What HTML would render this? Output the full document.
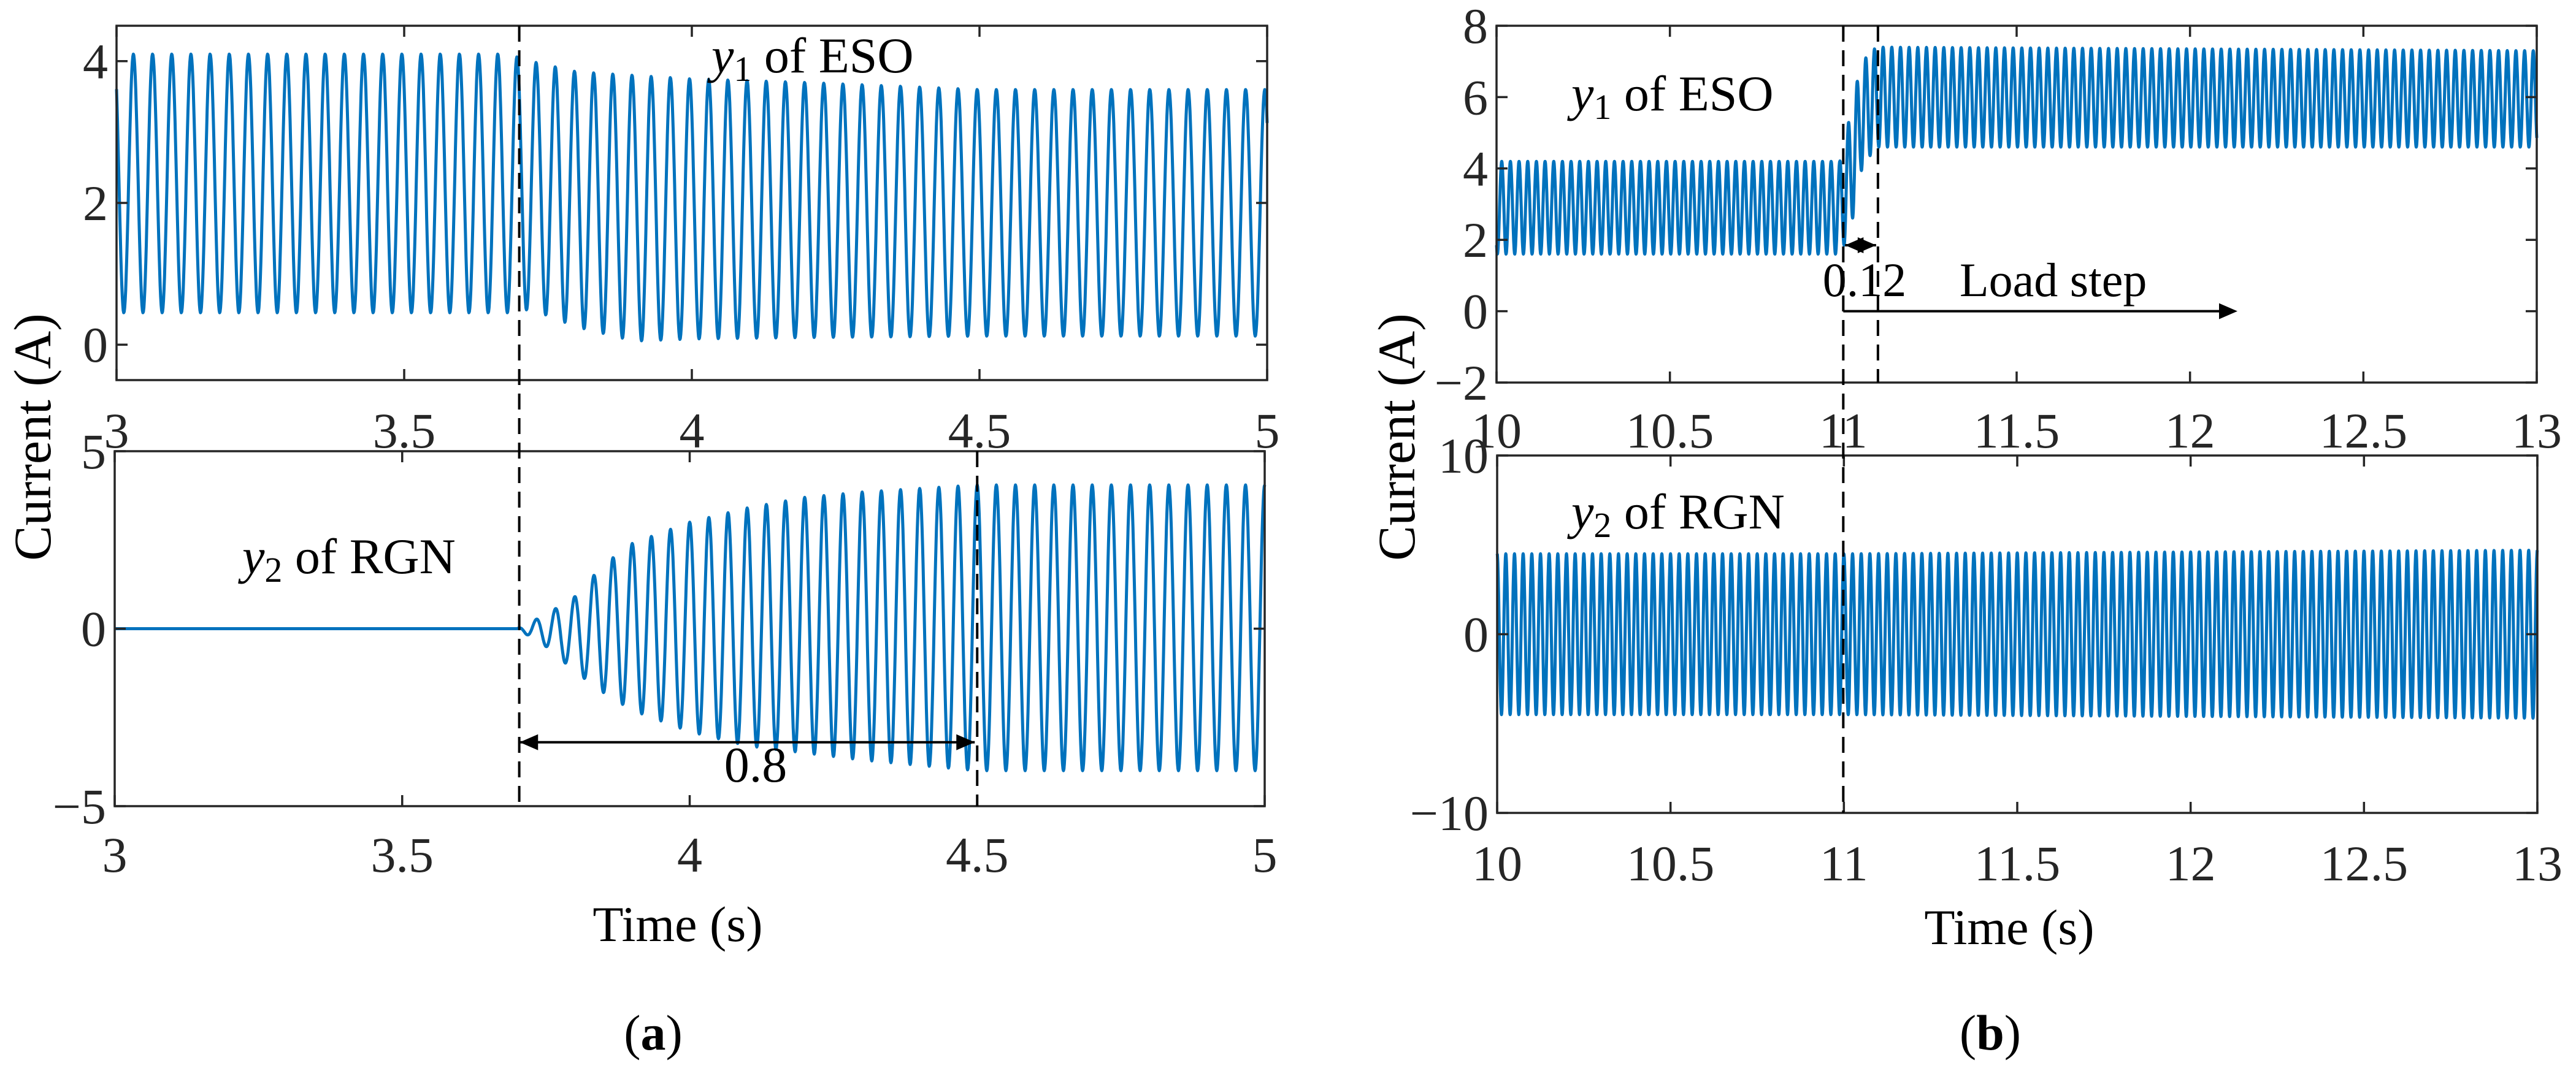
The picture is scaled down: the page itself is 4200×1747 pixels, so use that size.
<!DOCTYPE html>
<html><head><meta charset="utf-8"><style>
html,body{margin:0;padding:0;background:#fff;}
svg{display:block;font-family:"Liberation Serif",serif;}
text{font-family:"Liberation Serif",serif;}
</style></head><body>
<svg id="fig" width="4200" height="1747" viewBox="0 0 4200 1747" xmlns="http://www.w3.org/2000/svg"></svg>
<script>
// ---- data (envelopes) ----
const a1Times=[3,3.68,3.72,3.8,3.9,4.0,4.2,4.5,5];
const a1Max=[4.1,4.1,4.0,3.85,3.8,3.75,3.7,3.6,3.6];
const a1Min=[0.45,0.45,0.5,0.25,0.05,0.08,0.1,0.12,0.12];
const a2Times=[3,3.7,3.75,3.8,3.85,3.9,4.0,4.1,4.2,4.3,4.5,5];
const a2Max=[0,0,0.4,0.9,1.8,2.4,3.0,3.4,3.7,3.85,4.05,4.05];
const a2Min=[0,0,-0.5,-1.2,-1.8,-2.3,-2.9,-3.3,-3.5,-3.7,-4.0,-4.0];
const b1Times=[10,10.99,11.02,11.05,11.08,11.1,13];
const b1Max=[4.2,4.2,5.5,6.9,7.3,7.4,7.3];
const b1Min=[1.6,1.6,2.2,3.9,4.4,4.6,4.6];
const b2Times=[10,11,13];
const b2Max=[4.5,4.5,4.7];
const b2Min=[-4.5,-4.5,-4.7];
const freqA=30, freqB=40;
const xTicksA=[3,3.5,4,4.5,5], xTickLabelsA=["3","3.5","4","4.5","5"];
const xTicksB=[10,10.5,11,11.5,12,12.5,13], xTickLabelsB=["10","10.5","11","11.5","12","12.5","13"];
const yTicksA1=[0,2,4], yTicksA2=[-5,0,5], yTicksB1=[-2,0,2,4,6,8], yTicksB2=[-10,0,10];

const NS="http://www.w3.org/2000/svg";
const FONT='"Liberation Serif", serif';
const svg=document.getElementById('fig');
function mk(tag,attrs,parent){const e=document.createElementNS(NS,tag);for(const k in attrs)e.setAttribute(k,attrs[k]);if(tag==='text')e.setAttribute('font-family',FONT);(parent||svg).appendChild(e);return e;}
function interp(ts,vs,t){if(t<=ts[0])return vs[0];for(let i=1;i<ts.length;i++){if(t<=ts[i]){const f=(t-ts[i-1])/(ts[i]-ts[i-1]);return vs[i-1]+f*(vs[i]-vs[i-1]);}}return vs[vs.length-1];}
function makeAxis(x0,x1,y0,y1,xmin,xmax,ymin,ymax){return {x:v=>x0+(v-xmin)/(xmax-xmin)*(x1-x0),y:v=>y1-(v-ymin)/(ymax-ymin)*(y1-y0),x0,x1,y0,y1};}

const TXT='#262626';
function drawBox(ax,xt,xl,yt,name,labY){
  const g=mk('g',{});
  
  
  const r=mk('rect',{x:ax.x0,y:ax.y0,width:ax.x1-ax.x0,height:ax.y1-ax.y0,fill:'none',stroke:TXT,'stroke-width':3.5},g);
  
  xt.forEach((v,i)=>{const X=ax.x(v);
    mk('line',{x1:X,x2:X,y1:ax.y1,y2:ax.y1-18,stroke:TXT,'stroke-width':3.5},g);
    mk('line',{x1:X,x2:X,y1:ax.y0,y2:ax.y0+18,stroke:TXT,'stroke-width':3.5},g);
    const t=mk('text',{x:X,y:labY,'font-size':82,'text-anchor':'middle',fill:TXT},g);
    t.textContent=xl[i];});
  yt.forEach(v=>{const Y=ax.y(v);
    mk('line',{x1:ax.x0,x2:ax.x0+18,y1:Y,y2:Y,stroke:TXT,'stroke-width':3.5},g);
    mk('line',{x1:ax.x1,x2:ax.x1-18,y1:Y,y2:Y,stroke:TXT,'stroke-width':3.5},g);
    const t=mk('text',{x:ax.x0-14,y:Y+28,'font-size':82,'text-anchor':'end',fill:TXT},g);
    t.textContent=(v<0?'\u2212'+(-v):String(v));});
}
function drawSignal(ax,ts,mx,mn,freq,phase0,tmin,tmax,name){
  const N=Math.round((tmax-tmin)*freq*40);let d='';
  for(let i=0;i<=N;i++){const t=tmin+(tmax-tmin)*i/N;const hi=interp(ts,mx,t),lo=interp(ts,mn,t);
    const v=(hi+lo)/2+(hi-lo)/2*Math.cos(2*Math.PI*freq*(t-phase0));
    d+=(i?'L':'M')+ax.x(t).toFixed(1)+' '+ax.y(v).toFixed(1);}
  const p=mk('path',{d:d,fill:'none',stroke:'#0072BD','stroke-width':5,'stroke-linejoin':'round'});
  
}
function dashed(x,y0,y1,name){const l=mk('line',{x1:x,x2:x,y1:y0,y2:y1,stroke:'#000','stroke-width':4,'stroke-dasharray':'26,14'});
  }
function text(x,y,s,size,name,extra){const t=mk('text',Object.assign({x:x,y:y,'font-size':size,fill:'#000'},extra||{}));
  t.innerHTML=s;return t;}
function arrowHead(x,y,dir){const L=30,H=13;mk('polygon',{points:`${x},${y} ${x-dir*L},${y-H} ${x-dir*L},${y+H}`,fill:'#000'});}

// ---- panel (a) ----
const A1=makeAxis(190,2066,42,620,3,5,-0.5,4.5);
const A2=makeAxis(187,2062,736,1315,3,5,-5,5);
drawSignal(A1,a1Times,a1Max,a1Min,freqA,3.696,3,5,'y1-eso-signal-a');
drawSignal(A2,a2Times,a2Max,a2Min,freqA,3.7,3,5,'y2-rgn-signal-a');
drawBox(A1,xTicksA,xTickLabelsA,yTicksA1,'a-top',730);
drawBox(A2,xTicksA,xTickLabelsA,yTicksA2,'a-bottom',1422);
dashed(A1.x(3.7),42,1315,'dashed-3.7');
dashed(A2.x(4.5),736,1315,'dashed-4.5');
{const y=A2.y(-3.2),xa=A2.x(3.7)+4,xb=A2.x(4.5)-4;
 const l=mk('line',{x1:xa,x2:xb,y1:y,y2:y,stroke:'#000','stroke-width':4});
 arrowHead(xa,y,-1);arrowHead(xb,y,1);}
text(1232,1275,'0.8',82,'annotation-0.8',{'text-anchor':'middle'});
text(1160,118,'<tspan font-style="italic">y</tspan><tspan font-size="58" dy="14">1</tspan><tspan dy="-14"> of ESO</tspan>',82,'label-y1-eso-a');
text(395,935,'<tspan font-style="italic">y</tspan><tspan font-size="58" dy="14">2</tspan><tspan dy="-14"> of RGN</tspan>',82,'label-y2-rgn-a');
text(54,713,'Current (A)',86,'y-axis-title-a',{'text-anchor':'middle',transform:'rotate(-90 54 713)',dy:'28'});
text(1105,1535,'Time (s)',82,'x-axis-title-a',{'text-anchor':'middle'});
text(1065,1712,'(<tspan font-weight="bold">a</tspan>)',82,'caption-a',{'text-anchor':'middle'});

// ---- panel (b) ----
const B1=makeAxis(2440,4136,42,624,10,13,-2,8);
const B2=makeAxis(2441,4137,743,1326,10,13,-10,10);
drawSignal(B1,b1Times,b1Max,b1Min,freqB,10.99,10,13,'y1-eso-signal-b');
drawSignal(B2,b2Times,b2Max,b2Min,freqB,11,10,13,'y2-rgn-signal-b');
drawBox(B1,xTicksB,xTickLabelsB,yTicksB1,'b-top',730);
drawBox(B2,xTicksB,xTickLabelsB,yTicksB2,'b-bottom',1436);
dashed(B1.x(11),42,1326,'dashed-11');
dashed(B1.x(11.1),42,624,'dashed-11.1');
{const y=400,xa=B1.x(11)+3,xb=B1.x(11.1)-3;
 const l=mk('line',{x1:xa,x2:xb,y1:y,y2:y,stroke:'#000','stroke-width':4});
 arrowHead(xa,y,-1);arrowHead(xb,y,1);}
{const y=B1.y(0),xa=B1.x(11),xb=3648;
 const l=mk('line',{x1:xa,x2:xb-20,y1:y,y2:y,stroke:'#000','stroke-width':4});
 arrowHead(xb,y,1);}
text(3040,483,'0.12',78,'annotation-0.12',{'text-anchor':'middle'});
text(3195,483,'Load step',78,'annotation-load-step');
text(2562,180,'<tspan font-style="italic">y</tspan><tspan font-size="58" dy="14">1</tspan><tspan dy="-14"> of ESO</tspan>',82,'label-y1-eso-b');
text(2562,862,'<tspan font-style="italic">y</tspan><tspan font-size="58" dy="14">2</tspan><tspan dy="-14"> of RGN</tspan>',82,'label-y2-rgn-b');
text(2278,713,'Current (A)',86,'y-axis-title-b',{'text-anchor':'middle',transform:'rotate(-90 2278 713)',dy:'28'});
text(3276,1540,'Time (s)',82,'x-axis-title-b',{'text-anchor':'middle'});
text(3245,1712,'(<tspan font-weight="bold">b</tspan>)',82,'caption-b',{'text-anchor':'middle'});
</script>
</body></html>
